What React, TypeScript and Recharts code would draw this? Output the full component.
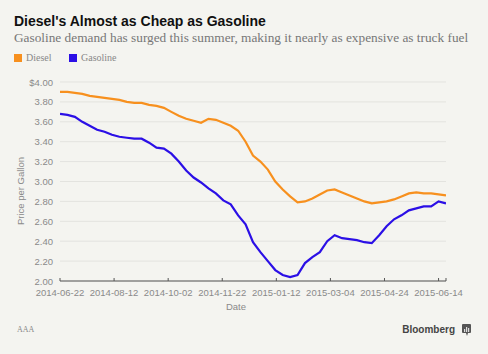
import React from 'react';
import { LineChart, Line, XAxis, YAxis, CartesianGrid } from 'recharts';

const START = '2014-06-22';
const END = '2015-06-21';
const xTickLabels = ['2014-06-22', '2014-08-12', '2014-10-02', '2014-11-22', '2015-01-12', '2015-03-04', '2015-04-24', '2015-06-14'];
const yTicks = [2.0, 2.2, 2.4, 2.6, 2.8, 3.0, 3.2, 3.4, 3.6, 3.8, 4.0];

const diesel = [3.90, 3.90, 3.89, 3.88, 3.86, 3.85, 3.84, 3.83, 3.82, 3.80, 3.79, 3.79, 3.77, 3.76, 3.74, 3.70, 3.66, 3.63, 3.61, 3.59, 3.63, 3.62, 3.59, 3.56, 3.51, 3.40, 3.26, 3.20, 3.12, 3.00, 2.92, 2.85, 2.79, 2.80, 2.83, 2.87, 2.91, 2.92, 2.89, 2.86, 2.83, 2.80, 2.78, 2.79, 2.80, 2.82, 2.85, 2.88, 2.89, 2.88, 2.88, 2.87, 2.86];
const gasoline = [3.68, 3.67, 3.65, 3.60, 3.56, 3.52, 3.50, 3.47, 3.45, 3.44, 3.43, 3.43, 3.39, 3.34, 3.33, 3.28, 3.20, 3.11, 3.04, 2.99, 2.93, 2.88, 2.81, 2.77, 2.66, 2.57, 2.39, 2.29, 2.20, 2.11, 2.06, 2.04, 2.06, 2.18, 2.24, 2.29, 2.40, 2.46, 2.43, 2.42, 2.41, 2.39, 2.38, 2.46, 2.55, 2.62, 2.66, 2.71, 2.73, 2.75, 2.75, 2.80, 2.78];

const DAY = 86400000;
const toTs = (s: string) => Date.parse(s + 'T00:00:00Z');
const startTs = toTs(START);
const endTs = toTs(END);

const data = diesel.map((d, i) => ({ t: startTs + i * 7 * DAY, diesel: d, gasoline: gasoline[i] }));
const xTicks = [...xTickLabels.map(toTs), endTs];

const fmtDate = (ts: number) => new Date(ts).toISOString().slice(0, 10);

const SANS = '"Liberation Sans", Arial, Helvetica, sans-serif';
const SERIF = '"Liberation Serif", "Times New Roman", serif';
const BG = '#f4f4f0';

const XTick = (props: any) => {
  const { x, y, payload } = props;
  const isEnd = payload.value === endTs;
  return (
    <g>
      <line x1={x} x2={x} y1={y - 3} y2={y} stroke="#555" strokeWidth={1} />
      {!isEnd && (
        <text x={x} y={y + 15} textAnchor="middle" fontSize={9.5} fill="#8a8a8a" fontFamily={SANS}>
          {fmtDate(payload.value)}
        </text>
      )}
    </g>
  );
};

const YTick = (props: any) => {
  const { x, y, payload } = props;
  const v = payload.value as number;
  const label = v === 4 ? '$4.00' : v.toFixed(2);
  return (
    <text x={x} y={y} dy={3.5} textAnchor="end" fontSize={9.5} fill="#8a8a8a" fontFamily={SANS}>
      {label}
    </text>
  );
};

export default function App() {
  return (
    <div style={{ position: 'absolute', left: 0, top: 0, width: 488, height: 354, background: BG, overflow: 'hidden' }}>
      <div style={{ position: 'absolute', left: 14, top: 13, fontFamily: SANS, fontWeight: 700, fontSize: 14, color: '#111', whiteSpace: 'nowrap' }}>
        Diesel's Almost as Cheap as Gasoline
      </div>
      <div style={{ position: 'absolute', left: 14, top: 30, fontFamily: SERIF, fontSize: 13.3, color: '#777', whiteSpace: 'nowrap' }}>
        Gasoline demand has surged this summer, making it nearly as expensive as truck fuel
      </div>
      <div style={{ position: 'absolute', left: 14, top: 54, width: 8, height: 8, background: '#f7901e' }} />
      <div style={{ position: 'absolute', left: 26, top: 52, fontFamily: SERIF, fontSize: 10, color: '#888', whiteSpace: 'nowrap' }}>Diesel</div>
      <div style={{ position: 'absolute', left: 69, top: 54, width: 8, height: 8, background: '#2b0fe6' }} />
      <div style={{ position: 'absolute', left: 81, top: 52, fontFamily: SERIF, fontSize: 10, color: '#888', whiteSpace: 'nowrap' }}>Gasoline</div>

      <div style={{ position: 'absolute', left: 0, top: 0 }}>
        <LineChart width={488} height={354} data={data} margin={{ top: 82, right: 42, bottom: 43, left: 0 }}>
          <CartesianGrid vertical={false} stroke="#e3e3df" strokeWidth={1} />
          <XAxis
            dataKey="t"
            type="number"
            domain={[startTs, endTs]}
            ticks={xTicks}
            tick={<XTick />}
            tickLine={false}
            tickSize={0}
            tickMargin={0}
            axisLine={{ stroke: '#555', strokeWidth: 1 }}
            height={30}
            interval={0}
            allowDataOverflow
          />
          <YAxis
            type="number"
            domain={[2, 4]}
            ticks={yTicks}
            tick={<YTick />}
            tickLine={false}
            axisLine={false}
            tickSize={5}
            tickMargin={2}
            width={60}
            interval={0}
          />
          <Line type="linear" dataKey="diesel" stroke="#f7901e" strokeWidth={2.2} dot={false} isAnimationActive={false} />
          <Line type="linear" dataKey="gasoline" stroke="#2b0fe6" strokeWidth={2.2} dot={false} isAnimationActive={false} />
        </LineChart>
      </div>

      <svg style={{ position: 'absolute', left: 0, top: 0 }} width={488} height={354}>
        <text x={24} y={191} transform="rotate(-90 24 191)" textAnchor="middle" fontSize={9.5} fill="#8a8a8a" fontFamily={SANS}>
          Price per Gallon
        </text>
        <text x={236} y={310} textAnchor="middle" fontSize={9.5} fill="#8a8a8a" fontFamily={SANS}>
          Date
        </text>
        <text x={17} y={332} fontSize={8} fill="#8a8a8a" fontFamily={SERIF}>
          AAA
        </text>
        <text x={455} y={333} textAnchor="end" fontSize={10} fontWeight={700} fill="#444" fontFamily={SANS}>
          Bloomberg
        </text>
        <rect x={462} y={324} width={9} height={9} rx={1} fill="#555" />
        <path d="M466 333 L467 336 L468 333 Z" fill="#555" />
        <rect x={464} y={329} width={1.2} height={3} fill="#ddd" />
        <rect x={466} y={327} width={1.2} height={5} fill="#ddd" />
        <rect x={468} y={328} width={1.2} height={4} fill="#ddd" />
      </svg>
    </div>
  );
}
